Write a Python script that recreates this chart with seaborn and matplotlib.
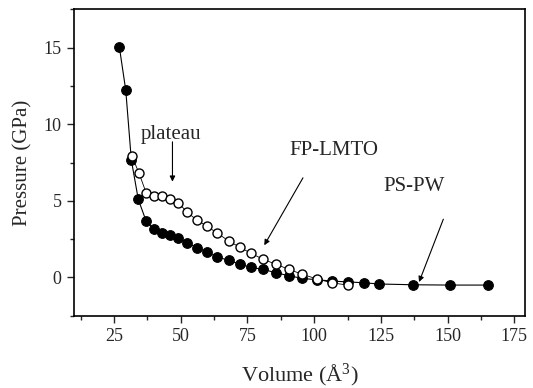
import matplotlib
matplotlib.use("Agg")
import matplotlib.pyplot as plt
import seaborn as sns
import pandas as pd
from matplotlib.ticker import MultipleLocator

# PS-PW (filled circles)
ps_volume = [27.0, 29.4, 31.5, 34.1, 37.0, 40.0, 42.9, 45.8, 49.1, 52.4, 56.0, 59.8, 63.6,
             67.9, 72.2, 76.4, 81.0, 85.7, 90.6, 95.6, 101.1, 106.6, 112.5, 118.5, 124.4,
             137.2, 151.0, 165.3]
ps_pressure = [15.04, 12.22, 7.65, 5.09, 3.69, 3.13, 2.91, 2.76, 2.56, 2.26, 1.95, 1.65, 1.34,
               1.12, 0.86, 0.65, 0.52, 0.30, 0.11, -0.07, -0.15, -0.24, -0.29, -0.35, -0.43,
               -0.48, -0.50, -0.50]

# FP-LMTO (open circles)
fp_volume = [31.6, 34.3, 37.0, 40.0, 42.9, 46.0, 49.1, 52.3, 56.0, 59.8, 63.5, 67.9, 72.2,
             76.4, 81.0, 85.7, 90.6, 95.6, 101.2, 106.6, 112.5]
fp_pressure = [7.95, 6.84, 5.54, 5.32, 5.30, 5.11, 4.87, 4.28, 3.74, 3.35, 2.91, 2.39, 1.96,
               1.57, 1.17, 0.86, 0.52, 0.20, -0.11, -0.35, -0.50]

x_ticks = [25, 50, 75, 100, 125, 150, 175]
y_ticks = [0, 5, 10, 15]

sns.set_style("ticks")
plt.rcParams['font.family'] = ['Liberation Serif', 'DejaVu Serif']
plt.rcParams['mathtext.fontset'] = 'custom'
plt.rcParams['mathtext.rm'] = 'Liberation Serif'
plt.rcParams['mathtext.it'] = 'Liberation Serif:italic'

ps = pd.DataFrame({"Volume": ps_volume, "Pressure": ps_pressure})
fp = pd.DataFrame({"Volume": fp_volume, "Pressure": fp_pressure})

fig = plt.figure(figsize=(5.33, 3.88), dpi=100)
ax = fig.add_axes([0.1388, 0.1863, 0.985 - 0.1388, 0.976 - 0.1863])

sns.lineplot(data=ps, x="Volume", y="Pressure", ax=ax, color="black", lw=0.8,
             marker="o", markersize=7, markerfacecolor="black", markeredgecolor="black",
             sort=False, zorder=3)
sns.lineplot(data=fp, x="Volume", y="Pressure", ax=ax, color="black", lw=0.6,
             marker="o", markersize=6.5, markerfacecolor="white", markeredgecolor="black",
             markeredgewidth=1.0, sort=False, zorder=4)

ax.set_xlim(10, 179)
ax.set_ylim(-2.5, 17.5)
ax.set_xticks(x_ticks)
ax.set_yticks(y_ticks)
ax.xaxis.set_minor_locator(MultipleLocator(12.5))
ax.yaxis.set_minor_locator(MultipleLocator(2.5))
ax.tick_params(which="major", direction="out", length=5, width=1.0, labelsize=13, pad=4)
ax.tick_params(which="minor", direction="out", length=3, width=1.0)
for s in ax.spines.values():
    s.set_visible(True)
    s.set_linewidth(1.2)
    s.set_color("black")

ax.set_xlabel("Volume (Å$^3$)", fontsize=16, labelpad=12)
ax.set_ylabel("Pressure (GPa)", fontsize=15, labelpad=8)

arrow = dict(arrowstyle="-|>", color="black", lw=0.8, mutation_scale=8, shrinkA=0, shrinkB=0)
ax.text(46.5, 9.3, "plateau", fontsize=15, ha="center", va="center")
ax.annotate("", xy=(46.9, 6.25), xytext=(46.9, 8.85), arrowprops=arrow)
ax.text(107.5, 8.3, "FP-LMTO", fontsize=15, ha="center", va="center")
ax.annotate("", xy=(81.3, 2.1), xytext=(95.8, 6.5), arrowprops=arrow)
ax.text(137.5, 5.95, "PS-PW", fontsize=15, ha="center", va="center")
ax.annotate("", xy=(139.3, -0.3), xytext=(148.4, 3.8), arrowprops=arrow)

fig.savefig("out.png", dpi=100)
